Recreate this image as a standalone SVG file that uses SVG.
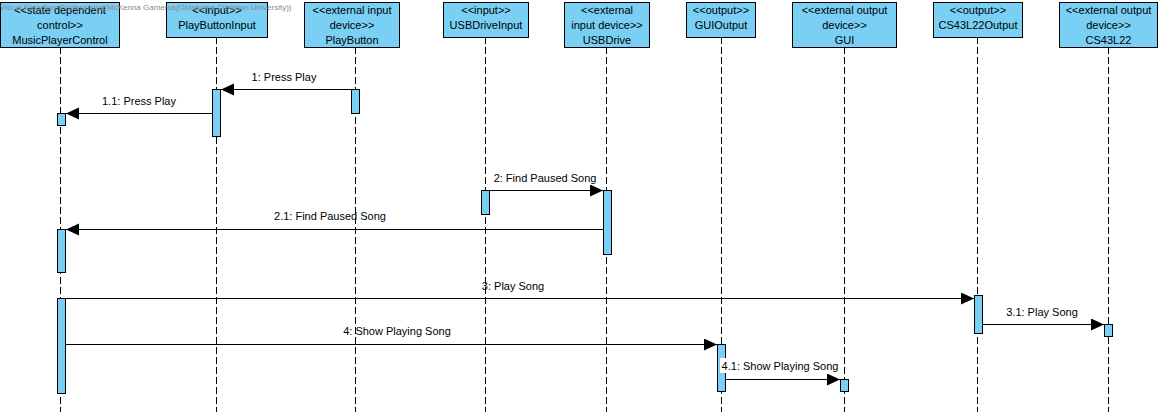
<svg xmlns="http://www.w3.org/2000/svg" width="1162" height="417" viewBox="0 0 1162 417">
<style>
.box{fill:#7acff5;stroke:#000;stroke-width:1}
.life{stroke:#000;stroke-width:1;stroke-dasharray:7,3;fill:none}
.act{fill:#7acff5;stroke:#000;stroke-width:1}
.msg{stroke:#000;stroke-width:1;fill:none;marker-end:url(#ah)}
text{font-family:"Liberation Sans",Arial,sans-serif;font-size:11px;fill:#000;text-anchor:middle}
.wm{font-size:8px;fill:#8a8a8a;text-anchor:start}
</style>
<defs>
<marker id="ah" markerUnits="userSpaceOnUse" markerWidth="14" markerHeight="13" refX="13" refY="6" orient="auto">
<path d="M0,0 L13,6 L0,12 z" fill="#000"/>
</marker>
</defs>
<rect width="1162" height="417" fill="#fff"/>
<g id="lifelines">
<line class="life" x1="60.5" y1="47" x2="60.5" y2="412"/>
<line class="life" x1="216.5" y1="37" x2="216.5" y2="412"/>
<line class="life" x1="355.5" y1="47" x2="355.5" y2="412"/>
<line class="life" x1="485.5" y1="37" x2="485.5" y2="412"/>
<line class="life" x1="606.5" y1="47" x2="606.5" y2="412"/>
<line class="life" x1="721.5" y1="37" x2="721.5" y2="412"/>
<line class="life" x1="844.5" y1="47" x2="844.5" y2="412"/>
<line class="life" x1="977.5" y1="37" x2="977.5" y2="412"/>
<line class="life" x1="1108.5" y1="47" x2="1108.5" y2="412"/>
</g>
<g id="MusicPlayerControl">
<rect class="box" x="0.5" y="2.5" width="119" height="45"/>
<text x="60" y="14">&lt;&lt;state dependent</text>
<text x="60" y="29">control&gt;&gt;</text>
<text x="60" y="44">MusicPlayerControl</text>
</g>
<g id="PlayButtonInput">
<rect class="box" x="166.5" y="2.5" width="101" height="35"/>
<text x="217" y="14">&lt;&lt;input&gt;&gt;</text>
<text x="217" y="29">PlayButtonInput</text>
</g>
<g id="PlayButton">
<rect class="box" x="304.5" y="2.5" width="95" height="45"/>
<text x="352" y="14">&lt;&lt;external input</text>
<text x="352" y="29">device&gt;&gt;</text>
<text x="352" y="44">PlayButton</text>
</g>
<g id="USBDriveInput">
<rect class="box" x="443.5" y="2.5" width="85" height="35"/>
<text x="486" y="14">&lt;&lt;input&gt;&gt;</text>
<text x="486" y="29">USBDriveInput</text>
</g>
<g id="USBDrive">
<rect class="box" x="564.5" y="2.5" width="85" height="45"/>
<text x="607" y="14">&lt;&lt;external</text>
<text x="607" y="29">input device&gt;&gt;</text>
<text x="607" y="44">USBDrive</text>
</g>
<g id="GUIOutput">
<rect class="box" x="686.5" y="2.5" width="69" height="35"/>
<text x="721" y="14">&lt;&lt;output&gt;&gt;</text>
<text x="721" y="29">GUIOutput</text>
</g>
<g id="GUI">
<rect class="box" x="792.5" y="2.5" width="104" height="45"/>
<text x="844.5" y="14">&lt;&lt;external output</text>
<text x="844.5" y="29">device&gt;&gt;</text>
<text x="844.5" y="44">GUI</text>
</g>
<g id="CS43L22Output">
<rect class="box" x="933.5" y="2.5" width="89" height="35"/>
<text x="978" y="14">&lt;&lt;output&gt;&gt;</text>
<text x="978" y="29">CS43L22Output</text>
</g>
<g id="CS43L22">
<rect class="box" x="1059.5" y="2.5" width="98" height="45"/>
<text x="1108.5" y="14">&lt;&lt;external output</text>
<text x="1108.5" y="29">device&gt;&gt;</text>
<text x="1108.5" y="44">CS43L22</text>
</g>
<g id="activations">
<rect class="act" x="351.5" y="89.5" width="8" height="24"/>
<rect class="act" x="212.5" y="89.5" width="8" height="47"/>
<rect class="act" x="57.5" y="113.5" width="8" height="12"/>
<rect class="act" x="481.5" y="190.5" width="8" height="24"/>
<rect class="act" x="603.5" y="190.5" width="8" height="64"/>
<rect class="act" x="57.5" y="229.5" width="8" height="43"/>
<rect class="act" x="57.5" y="298.5" width="8" height="95"/>
<rect class="act" x="974.5" y="295.5" width="8" height="38"/>
<rect class="act" x="1104.5" y="324.5" width="8" height="12"/>
<rect class="act" x="717.5" y="344.5" width="8" height="47"/>
<rect class="act" x="840.5" y="379.5" width="8" height="12"/>
</g>
<g id="connectors">
<line class="msg" x1="351.5" y1="89.5" x2="221" y2="89.5"/>
<line class="msg" x1="212.5" y1="113.5" x2="66" y2="113.5"/>
<line class="msg" x1="489.5" y1="190.5" x2="603" y2="190.5"/>
<line class="msg" x1="603.5" y1="229.5" x2="66" y2="229.5"/>
<line class="msg" x1="65.5" y1="298.5" x2="974" y2="298.5"/>
<line class="msg" x1="982.5" y1="324.5" x2="1104" y2="324.5"/>
<line class="msg" x1="65.5" y1="344.5" x2="717" y2="344.5"/>
<line class="msg" x1="725.5" y1="379.5" x2="840" y2="379.5"/>
</g>
<g id="labels">
<text x="284" y="81">1: Press Play</text>
<text x="139" y="104.5">1.1: Press Play</text>
<text x="545" y="182">2: Find Paused Song</text>
<text x="330" y="220">2.1: Find Paused Song</text>
<text x="513" y="289.5">3: Play Song</text>
<text x="1042" y="316">3.1: Play Song</text>
<text x="397" y="335">4: Show Playing Song</text>
<rect x="720" y="358" width="120" height="15" fill="#fff"/>
<text x="780" y="369.5">4.1: Show Playing Song</text>
</g>
<text class="wm" x="0" y="9.5">Visual Paradigm Professional(McKenna Gameros(Oklahoma Christian University))</text>
</svg>
